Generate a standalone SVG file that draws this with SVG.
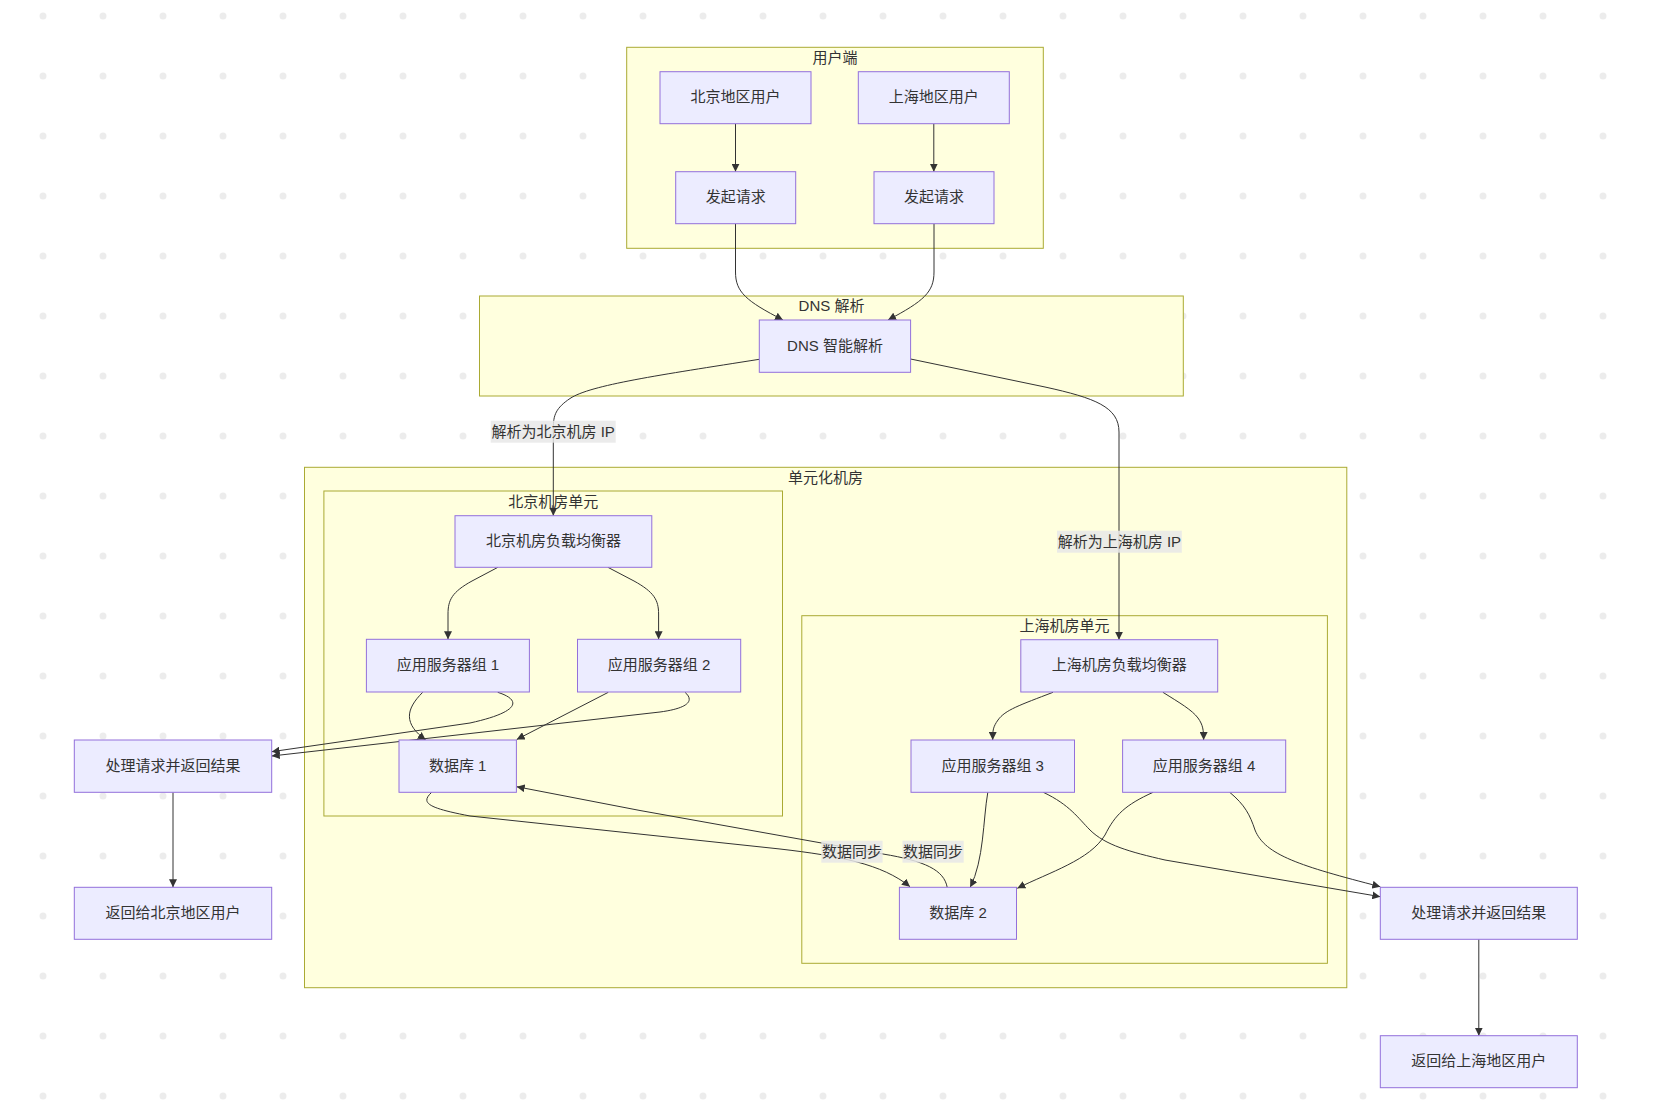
<svg xmlns="http://www.w3.org/2000/svg" width="1658" height="1114" viewBox="0 0 1658 1114">
<defs>
<pattern id="dots" patternUnits="userSpaceOnUse" x="0" y="0" width="60" height="60">
<circle cx="43" cy="16" r="3.5" fill="#ececec"/>
</pattern>
<marker id="arrow" viewBox="0 0 10 10" refX="10" refY="5" markerUnits="userSpaceOnUse" markerWidth="8" markerHeight="8" orient="auto">
<path d="M0,0 L10,5 L0,10 z" fill="#333333"/>
</marker>
</defs>
<style>
text{font-family:"Liberation Sans","Noto Sans CJK SC",sans-serif;font-size:15px;fill:#333333;text-anchor:middle;}
.cluster rect{fill:#ffffde;stroke:#aaaa33;stroke-width:1;}
.node rect{fill:#ececff;stroke:#9370db;stroke-width:1;}
.edges path{fill:none;stroke:#333333;stroke-width:1;marker-end:url(#arrow);}
.lbl rect{fill:#e8e8e8;fill-opacity:0.85;}
</style>
<rect x="0" y="0" width="1658" height="1114" fill="#ffffff"/>
<rect x="0" y="0" width="1658" height="1114" fill="url(#dots)"/>

<g id="cluster_user" class="cluster"><rect x="626.7" y="47.3" width="416.6" height="201"/><text x="835" y="63">用户端</text></g>
<g id="cluster_dns" class="cluster"><rect x="479.5" y="296" width="703.8" height="100"/><text x="831.5" y="311">DNS 解析</text></g>
<g id="cluster_unit" class="cluster"><rect x="304.5" y="467.3" width="1042.3" height="520.4"/><text x="825.6" y="482.5">单元化机房</text></g>
<g id="cluster_bj" class="cluster"><rect x="323.9" y="491" width="458.6" height="325"/><text x="553.2" y="507">北京机房单元</text></g>
<g id="cluster_sh" class="cluster"><rect x="801.8" y="615.7" width="525.6" height="347.6"/><text x="1064.6" y="631">上海机房单元</text></g>

<g id="edges" class="edges">
<path d="M735.5,123.7 L735.5,171.7"/>
<path d="M933.8,123.7 L933.8,171.7"/>
<path d="M735.5,223.7 L735.5,272 C735.5,292 746,301 783,320"/>
<path d="M934,223.7 L934,272 C934,292 924,301 888,320"/>
<path d="M759.3,359.3 C660,375 590,385 570,398.5 C556,408 553.3,415 553.3,428 L553.3,515.7"/>
<path d="M910.6,359 L1045,387 C1095,398 1119,407 1119,432 L1119,639.7"/>
<path d="M497.9,567.3 L472,581 C452,592 448,600 448,614 L448,639.3"/>
<path d="M607.9,567.3 L634,581 C654,592 658.6,600 658.6,614 L658.6,639.3"/>
<path d="M1053,692.3 C1020,705 1005,710 998,720 C993,727 992.7,730 992.7,740"/>
<path d="M1162.9,692.3 C1180,703 1192,710 1198,718 C1203,725 1203.6,730 1203.6,740"/>
<path d="M422.7,692.3 C405,710 404,724 425.7,740"/>
<path d="M497.7,692.3 C522,700 520,712 470,723 L271.7,751.7"/>
<path d="M608.3,692.3 L516.7,739.5"/>
<path d="M685,692.3 C694,700 690,708 660,712 L271.7,756"/>
<path d="M431.7,792.3 C420,803 428,808 470,816 L780,849 C840,856 882,864 910,886.7"/>
<path d="M947.2,887.3 C944,870 925,861 883,854 L640,810.5 L516.7,786.7"/>
<path d="M987.8,792.3 C983,820 984,860 970.2,887.3"/>
<path d="M1043.3,792.3 C1070,805 1078,818 1090,830 C1105,845 1130,852 1165,860 L1380.3,896.7"/>
<path d="M1153.1,792.3 C1125,805 1115,815 1105,835 C1090,860 1050,872 1017.3,888.3"/>
<path d="M1229.7,792.3 C1245,805 1250,815 1255,830 C1265,855 1300,866 1380.3,886.7"/>
<path d="M173,792.3 L173,887.3"/>
<path d="M1478.8,939.3 L1478.8,1035.7"/>
</g>

<g id="edge_labels">
<g class="lbl"><rect x="490.7" y="420.7" width="125" height="22"/><text x="553.2" y="437">解析为北京机房 IP</text></g>
<g class="lbl"><rect x="1057" y="530.7" width="124.8" height="22"/><text x="1119.4" y="547">解析为上海机房 IP</text></g>
<g class="lbl"><rect x="821.3" y="840.7" width="61.3" height="22"/><text x="852" y="857">数据同步</text></g>
<g class="lbl"><rect x="902.5" y="840.7" width="61.2" height="22"/><text x="933.1" y="857">数据同步</text></g>
</g>

<g id="n_bj_user" class="node"><rect x="660" y="71.7" width="151" height="52"/><text x="735.5" y="102.2">北京地区用户</text></g>
<g id="n_sh_user" class="node"><rect x="858.3" y="71.7" width="151" height="52"/><text x="933.8" y="102.2">上海地区用户</text></g>
<g id="n_req1" class="node"><rect x="675.7" y="171.7" width="120" height="52"/><text x="735.7" y="202.2">发起请求</text></g>
<g id="n_req2" class="node"><rect x="874" y="171.7" width="120" height="52"/><text x="934" y="202.2">发起请求</text></g>
<g id="n_dns" class="node"><rect x="759.3" y="320" width="151.3" height="52.3"/><text x="835" y="350.5">DNS 智能解析</text></g>
<g id="n_bj_lb" class="node"><rect x="455" y="515.7" width="196.8" height="51.6"/><text x="553.4" y="546">北京机房负载均衡器</text></g>
<g id="n_app1" class="node"><rect x="366.4" y="639.3" width="163" height="52.7"/><text x="447.9" y="670.1">应用服务器组 1</text></g>
<g id="n_app2" class="node"><rect x="577.5" y="639.3" width="163.2" height="52.7"/><text x="659.1" y="670.1">应用服务器组 2</text></g>
<g id="n_db1" class="node"><rect x="399" y="740" width="117.4" height="52.3"/><text x="457.7" y="770.6">数据库 1</text></g>
<g id="n_sh_lb" class="node"><rect x="1020.8" y="639.7" width="196.9" height="52.3"/><text x="1119.2" y="670.3">上海机房负载均衡器</text></g>
<g id="n_app3" class="node"><rect x="911" y="740" width="163.5" height="52.3"/><text x="992.7" y="770.6">应用服务器组 3</text></g>
<g id="n_app4" class="node"><rect x="1122.6" y="740" width="163.1" height="52.3"/><text x="1204.1" y="770.6">应用服务器组 4</text></g>
<g id="n_db2" class="node"><rect x="899.4" y="887.3" width="117.1" height="52"/><text x="958" y="917.8">数据库 2</text></g>
<g id="n_bj_proc" class="node"><rect x="74.3" y="740" width="197.4" height="52.3"/><text x="173" y="770.6">处理请求并返回结果</text></g>
<g id="n_bj_ret" class="node"><rect x="74.3" y="887.3" width="197.4" height="52"/><text x="173" y="917.8">返回给北京地区用户</text></g>
<g id="n_sh_proc" class="node"><rect x="1380.3" y="887.3" width="197" height="52"/><text x="1478.8" y="917.8">处理请求并返回结果</text></g>
<g id="n_sh_ret" class="node"><rect x="1380.3" y="1035.7" width="197" height="52"/><text x="1478.8" y="1066.2">返回给上海地区用户</text></g>
</svg>
